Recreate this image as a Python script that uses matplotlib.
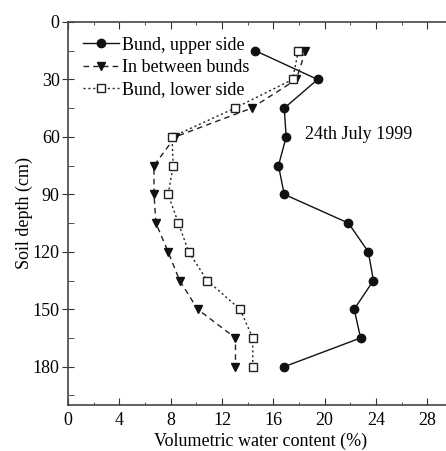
import matplotlib
matplotlib.use("Agg")
import matplotlib.pyplot as plt
from matplotlib.ticker import MultipleLocator

plt.rcParams['font.family'] = ['Liberation Serif', 'DejaVu Serif']
plt.rcParams['mathtext.fontset'] = 'stix'

depth = [15, 30, 45, 60, 75, 90, 105, 120, 135, 150, 165, 180]
upper = [14.6, 19.45, 16.85, 17.0, 16.4, 16.85, 21.85, 23.4, 23.8, 22.3, 22.8, 16.85]
between = [18.5, 17.8, 14.3, 8.35, 6.7, 6.7, 6.85, 7.8, 8.7, 10.1, 13.05, 13.05]
lower = [17.95, 17.5, 13.0, 8.1, 8.2, 7.8, 8.6, 9.4, 10.85, 13.4, 14.4, 14.4]
labels = ["Bund, upper side", "In between bunds", "Bund, lower side"]
annotation = "24th July 1999"

fig = plt.figure(figsize=(4.46, 4.51), dpi=100)
ax = fig.add_axes([68/446, 1-405/451, (453-68)/446, (405-22)/451])

ax.plot(upper, depth, '-', color='#111111', lw=1.0, marker='o', ms=6,
        mfc='#111111', mec='#111111', label=labels[0])
ax.plot(between, depth, linestyle=(0, (4, 3)), color='#222222', lw=1.0, marker='v', ms=5.5,
        mfc='#111111', mec='#111111', label=labels[1])
ax.plot(lower, depth, linestyle=(0, (1.5, 2)), color='#222222', lw=1.0, marker='s', ms=6,
        mfc='white', mec='#222222', mew=1.0, label=labels[2])

ax.set_xlim(0, 30)
ax.set_ylim(200, 0)
ax.xaxis.set_minor_locator(MultipleLocator(2))
ax.yaxis.set_minor_locator(MultipleLocator(15))
ax.set_xticks([0, 4, 8, 12, 16, 20, 24, 28])
ax.set_yticks([0, 30, 60, 90, 120, 150, 180])

ax.tick_params(axis='x', which='both', direction='in', top=True, labelsize=13, pad=5, color='#333333')
ax.tick_params(axis='x', which='major', length=5)
ax.tick_params(axis='x', which='minor', length=2.5)
ax.tick_params(axis='y', which='major', direction='inout', length=8, labelsize=13, pad=2, color='#333333')
ax.tick_params(axis='y', which='minor', direction='in', length=4, color='#333333')
for s in ax.spines.values():
    s.set_color('#444444')
    s.set_linewidth(1.2)

ax.set_xlabel("Volumetric water content (%)", fontsize=13, labelpad=3)
ax.set_ylabel("Soil depth (cm)", fontsize=13, labelpad=0)

ax.text(18.5, 59, annotation, fontsize=13, va='center', ha='left')

leg = ax.legend(loc='upper left', bbox_to_anchor=(0.01, 0.99), frameon=False, fontsize=13,
                handlelength=2.0, handletextpad=0.2, labelspacing=0.3, borderaxespad=0.2)

fig.savefig("out.png", dpi=100)
